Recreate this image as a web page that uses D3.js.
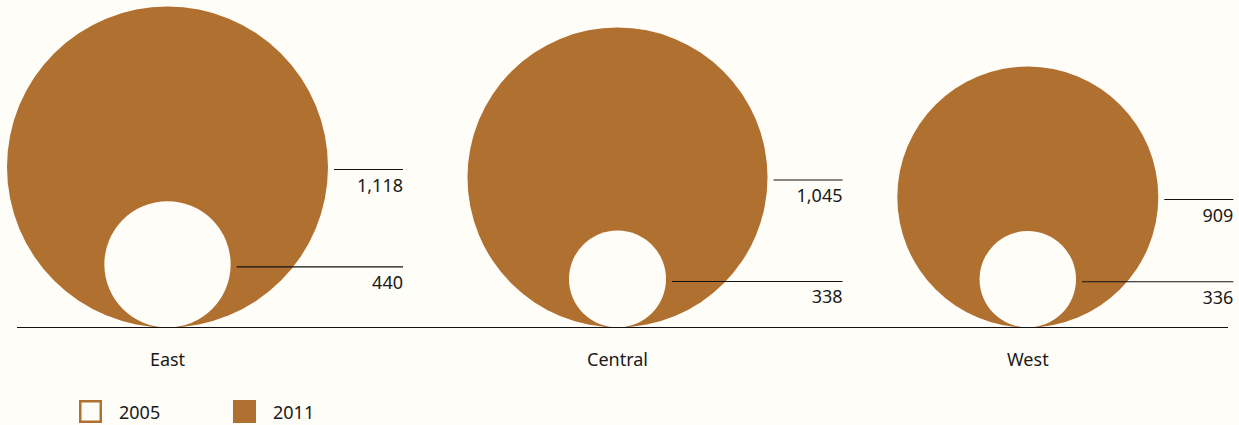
<!DOCTYPE html>
<html>
<head>
<meta charset="utf-8">
<script src="https://cdn.jsdelivr.net/npm/d3@7"></script>
<style>
  html, body { margin: 0; padding: 0; background: #fffdf8; }
  svg { display: block; }
  text { font-family: "Noto Sans", sans-serif; fill: #1a1a1a; }
</style>
</head>
<body>
<svg id="chart" width="1239" height="425"></svg>
<script>
// Regions and their values for the two years
const regions = ["East", "Central", "West"];
const values2005 = [440, 338, 336];
const values2011 = [1118, 1045, 909];
const years = ["2005", "2011"];

const brown = "#b07030";
const bg = "#fffdf8";
const baseY = 327.5;

const svg = d3.select("#chart");

// Radius grows linearly with the value
const r = d3.scaleLinear().domain([0, 1118]).range([0, 160.5]);

// Centre of each region's bubble pair
const xPos = d3.scaleOrdinal().domain(regions).range([167.5, 617.5, 1027.8]);

const fmt = d3.format(",");

const groups = svg.selectAll("g.region")
  .data(regions.map((name, i) => ({ name, v05: values2005[i], v11: values2011[i] })))
  .join("g")
  .attr("class", "region")
  .attr("transform", d => `translate(${xPos(d.name)},0)`);

// 2011 bubble resting on the baseline
groups.append("circle")
  .attr("cx", 0)
  .attr("cy", d => baseY - r(d.v11))
  .attr("r", d => r(d.v11))
  .attr("fill", brown);

// 2005 bubble inside it
groups.append("circle")
  .attr("cx", 0)
  .attr("cy", d => baseY - r(d.v05))
  .attr("r", d => r(d.v05))
  .attr("fill", bg);

// Leader lines and value labels
const gap = 6, tail = 75, labelOffset = 22, lineDrop = 2.5;
groups.each(function(d) {
  const g = d3.select(this);
  const xEnd = r(d.v11) + tail;
  const items = [
    { v: d.v11, y: baseY - r(d.v11) + lineDrop, x0: r(d.v11) + gap },
    { v: d.v05, y: baseY - r(d.v05) + lineDrop, x0: r(d.v05) + gap }
  ];
  items.forEach(it => {
    g.append("line")
      .attr("x1", it.x0).attr("x2", xEnd)
      .attr("y1", it.y).attr("y2", it.y)
      .attr("stroke", "#111").attr("stroke-width", 1.2);
    g.append("text")
      .attr("x", xEnd).attr("y", it.y + labelOffset)
      .attr("text-anchor", "end")
      .attr("font-size", 18)
      .text(fmt(it.v));
  });
  g.append("text")
    .attr("x", 0).attr("y", 366)
    .attr("text-anchor", "middle")
    .attr("font-size", 18)
    .text(d.name);
});

// Baseline
svg.append("line")
  .attr("x1", 17).attr("x2", 1228)
  .attr("y1", baseY).attr("y2", baseY)
  .attr("stroke", "#111").attr("stroke-width", 1.2);

// Legend
const legend = svg.append("g").attr("transform", "translate(79,400)");
const items = legend.selectAll("g")
  .data(years)
  .join("g")
  .attr("transform", (d, i) => `translate(${i * 154},0)`);
items.append("rect")
  .attr("x", (d, i) => i === 0 ? 1.25 : 0)
  .attr("y", (d, i) => i === 0 ? 1.25 : 0)
  .attr("width", (d, i) => i === 0 ? 20.5 : 23)
  .attr("height", (d, i) => i === 0 ? 20.5 : 23)
  .attr("fill", (d, i) => i === 0 ? bg : brown)
  .attr("stroke", (d, i) => i === 0 ? brown : "none")
  .attr("stroke-width", 2.5);
items.append("text")
  .attr("x", 40).attr("y", 19)
  .attr("font-size", 18)
  .text(d => d);
</script>
</body>
</html>
